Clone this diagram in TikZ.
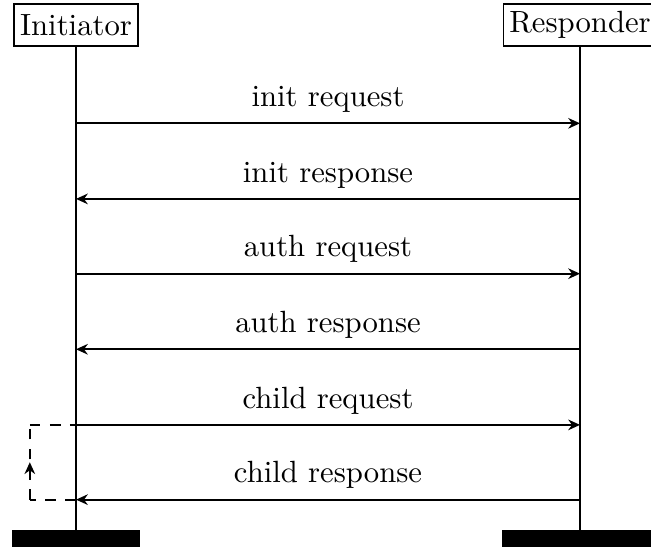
\documentclass[tikz,border=0pt]{standalone}
\usetikzlibrary{calc,arrows.meta,decorations.markings}

\tikzset{
  party/.style={draw, rectangle, inner sep=2pt, minimum height=0.5cm},
  msg/.style={-{Stealth[length=4pt, width=3.6pt, inset=1.3pt]}},
  midarrow/.style={postaction={decorate},
    decoration={markings, mark=at position 0.5 with {\arrow[solid]{Stealth[length=4pt, width=3.6pt, inset=1.3pt]}}}}
}

\begin{document}
\begin{tikzpicture}[semithick, font=\fontsize{10.4}{12}\selectfont]
			%%%%% START %%%%%
			\useasboundingbox (-0.905, 0.548) rectangle (6.845, -5.952);
			
			\node[party] (init) at (0, 0.25) {Initiator};
			\node[party] (resp) at (6, 0.25) {Responder};
			
			\coordinate (iend) at (0, -5.77);
			\coordinate (rend) at (6, -5.77);
			\draw (init) -- (iend);
			\draw (resp) -- (rend);
			
			\draw[fill=black] (init.west |- iend) rectangle ($(init.east |- iend) + (0, -0.25)$);
			\draw[fill=black] (resp.west |- rend) rectangle ($(resp.east |- rend) + (0, -0.25)$);
			
			\coordinate (i1) at (0, -0.92);  \coordinate (r1) at (6, -0.92);
			\coordinate (i2) at (0, -1.82);  \coordinate (r2) at (6, -1.82);
			\coordinate (i3) at (0, -2.71);  \coordinate (r3) at (6, -2.71);
			\coordinate (i4) at (0, -3.61);  \coordinate (r4) at (6, -3.61);
			\coordinate (i5) at (0, -4.51);  \coordinate (r5) at (6, -4.51);
			\coordinate (i6) at (0, -5.40);  \coordinate (r6) at (6, -5.40);
			
			\draw[msg] (i1) -- node[above] {init request} (r1);
			\draw[msg] (r2) -- node[above] {init response} (i2);
			\draw[msg] (i3) -- node[above] {auth request} (r3);
			\draw[msg] (r4) -- node[above] {auth response} (i4);
			\draw[msg] (i5) -- node[above] {child request} (r5);
			\draw[msg] (r6) -- node[above] {child response} (i6);
			
			% retry loop
			\coordinate (l5) at (-0.55, -4.51);
			\coordinate (l6) at (-0.55, -5.40);
			\draw[dash pattern=on 3.6pt off 3.2pt] (i6) -- (l6);
			\draw[dash pattern=on 3.6pt off 3.2pt, midarrow] (l6) -- (l5);
			\draw[dash pattern=on 3.6pt off 3.2pt] (l5) -- (i5);
			
			%%%%% END %%%%%
		\end{tikzpicture}
\end{document}
